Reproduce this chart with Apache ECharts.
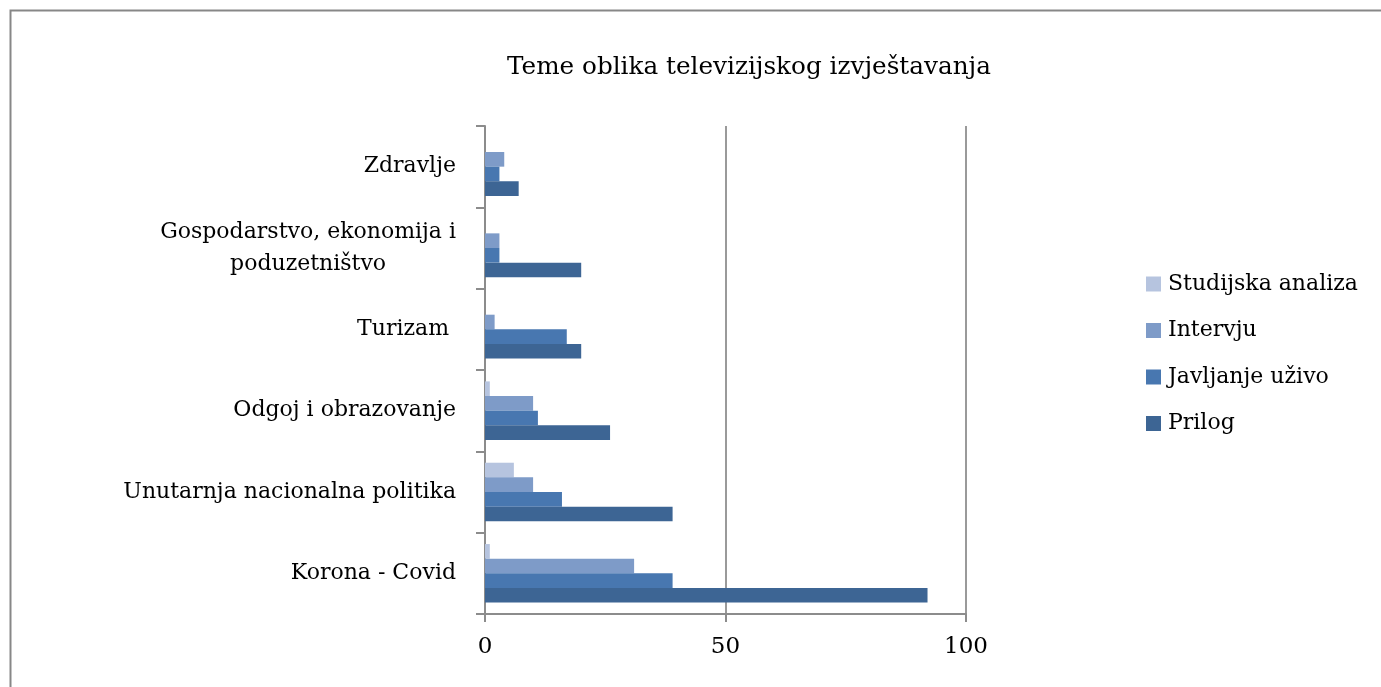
<!DOCTYPE html>
<html>
<head>
<meta charset="utf-8">
<script src="https://cdn.jsdelivr.net/npm/echarts@6/dist/echarts.min.js"></script>
<style>
  html, body { margin: 0; padding: 0; background: #fff; }
  #chart { width: 1381px; height: 687px; }
</style>
</head>
<body>
<div id="chart"></div>
<script>
// kategorije odozdo prema gore (kao na osi)
const categories = ['Korona - Covid', 'Unutarnja nacionalna politika', 'Odgoj i obrazovanje', 'Turizam ', 'Gospodarstvo, ekonomija i\nporuzetništvo'.replace('poruz', 'poduz'), 'Zdravlje'];
// redoslijed serija: prva je gore u svakoj kategoriji
const seriesNames = ['Studijska analiza', 'Intervju', 'Javljanje uživo', 'Prilog'];
const studijska = [1, 6, 1, 0, 0, 0];
const intervju = [31, 10, 10, 2, 3, 4];
const javljanje = [39, 16, 11, 17, 3, 3];
const prilog = [92, 39, 26, 20, 20, 7];
const xTicks = [0, 50, 100];

const colors = ['#b6c4df', '#7e9bc8', '#4877b0', '#3d6594'];
const fontFamily = '"DejaVu Serif", serif';

const chart = echarts.init(document.getElementById('chart'));

const values = [studijska, intervju, javljanje, prilog];
const series = seriesNames.map((name, i) => ({
  name: name,
  type: 'bar',
  data: values[i],
  barGap: '0%',
  barCategoryGap: '28%',
  itemStyle: { color: colors[i] }
}));

const option = {
  backgroundColor: '#fff',
  animation: false,
  textStyle: { fontFamily: fontFamily, color: '#000' },
  title: {
    text: 'Teme oblika televizijskog izvještavanja',
    left: 502,
    top: 50,
    textStyle: { fontFamily: fontFamily, fontSize: 24.7, fontWeight: 'normal', color: '#000' }
  },
  graphic: [{
    type: 'rect',
    left: 8, top: 8,
    shape: { width: 1400, height: 700 },
    style: { fill: 'none', stroke: '#878787', lineWidth: 2 },
    silent: true
  }],
  legend: {
    orient: 'vertical',
    left: 1141,
    top: 268,
    itemWidth: 15,
    itemHeight: 15,
    itemGap: 24.5,
    icon: 'rect',
    data: ['Studijska analiza', 'Intervju', 'Javljanje uživo', 'Prilog'],
    textStyle: { fontFamily: fontFamily, fontSize: 22, color: '#000', padding: [0, 0, 0, 2] }
  },
  grid: { left: 485, right: 415, top: 126, bottom: 73 },
  xAxis: {
    type: 'value',
    min: 0, max: 100, interval: 50,
    axisLine: { show: true, lineStyle: { color: '#8c8c8c', width: 2 } },
    axisTick: { show: true, length: 8, lineStyle: { color: '#8c8c8c', width: 2 } },
    splitLine: { show: true, lineStyle: { color: '#9a9a9a', width: 2 } },
    axisLabel: {
      margin: 22,
      fontFamily: fontFamily, fontSize: 23, color: '#000',
      formatter: v => (xTicks.indexOf(v) >= 0 ? String(v) : '')
    }
  },
  yAxis: {
    type: 'category',
    data: categories,
    axisLine: { show: true, lineStyle: { color: '#8c8c8c', width: 2 } },
    axisTick: { show: true, length: 9, lineStyle: { color: '#8c8c8c', width: 2 } },
    axisLabel: {
      margin: 29,
      fontFamily: fontFamily, fontSize: 22, color: '#000',
      lineHeight: 32,
      formatter: v => v.split('\n').map(l => '{c|' + l + '}').join('\n'),
      rich: { c: { align: 'center', fontFamily: fontFamily, fontSize: 22, lineHeight: 32 } }
    }
  },
  series: series
};

chart.setOption(option);
</script>
</body>
</html>
